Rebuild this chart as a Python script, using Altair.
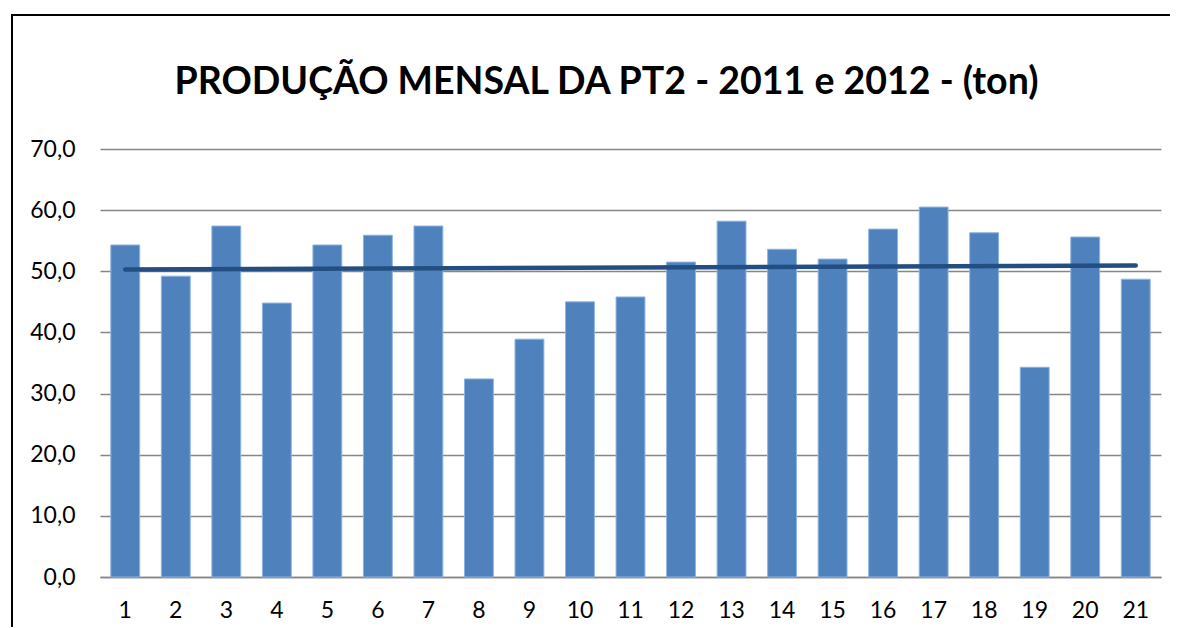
import altair as alt
import pandas as pd

meses = list(range(1, 22))
producao = [54.3, 49.2, 57.4, 44.8, 54.3, 55.9, 57.4, 32.4, 38.9, 45.0, 45.8,
            51.5, 58.2, 53.6, 52.0, 56.9, 60.5, 56.3, 34.3, 55.6, 48.7]
titulo = "PRODUÇÃO MENSAL DA PT2 - 2011 e 2012 - (ton)"

df = pd.DataFrame({"mes": meses, "producao": producao})
frame_df = pd.DataFrame({"k": [0]})
title_df = pd.DataFrame({"t": [titulo]})

FONT = "Lato"
W, H = 1061, 428

x_enc = alt.X("mes:O", title=None,
              scale=alt.Scale(paddingInner=0.4286, paddingOuter=0.2143),
              axis=alt.Axis(labelAngle=0, ticks=False, domainColor="#868686",
                            domainWidth=1.5, labelFontSize=23, labelFont=FONT,
                            labelColor="#000000", labelPadding=22, grid=False))
y_enc = alt.Y("producao:Q", title=None,
              scale=alt.Scale(domain=[0, 70], nice=False),
              axis=alt.Axis(values=[0, 10, 20, 30, 40, 50, 60, 70],
                            labelExpr="replace(format(datum.value, '.1f'), '.', ',')",
                            domain=False, ticks=False, gridColor="#868686",
                            gridWidth=1.5, labelFontSize=23, labelFont=FONT,
                            labelColor="#000000", labelPadding=25))

base = alt.Chart(df)

bars = base.mark_bar(color="#4F81BD", stroke="#8DB3E2", strokeWidth=1).encode(
    x=x_enc, y=y_enc)

trend = base.transform_regression("mes", "producao").mark_line(
    color="#234E82", strokeWidth=4.5, strokeCap="round").encode(
    x=alt.X("mes:O"), y=alt.Y("producao:Q"))

frame_left = alt.Chart(frame_df).mark_rule(color="#000000", strokeWidth=2).encode(
    x=alt.value(-88), y=alt.value(-134), y2=alt.value(500))
frame_top = alt.Chart(frame_df).mark_rule(color="#000000", strokeWidth=2).encode(
    y=alt.value(-134), x=alt.value(-89), x2=alt.value(1120))

title_mark = alt.Chart(title_df).mark_text(
    font=FONT, fontSize=37.5, fontWeight="bold", color="#000000",
    align="center", baseline="alphabetic").encode(
    text="t:N", x=alt.value(506.5), y=alt.value(-55))

chart = alt.layer(bars, trend, frame_left, frame_top, title_mark).properties(
    width=W, height=H,
    background="#ffffff",
    autosize=alt.AutoSizeParams(type="none"),
    padding={"left": 92, "top": 141, "right": 9, "bottom": 50},
).configure_view(stroke="transparent", strokeWidth=0)

chart.save("out.html", embed_options={"renderer": "svg", "actions": False})
